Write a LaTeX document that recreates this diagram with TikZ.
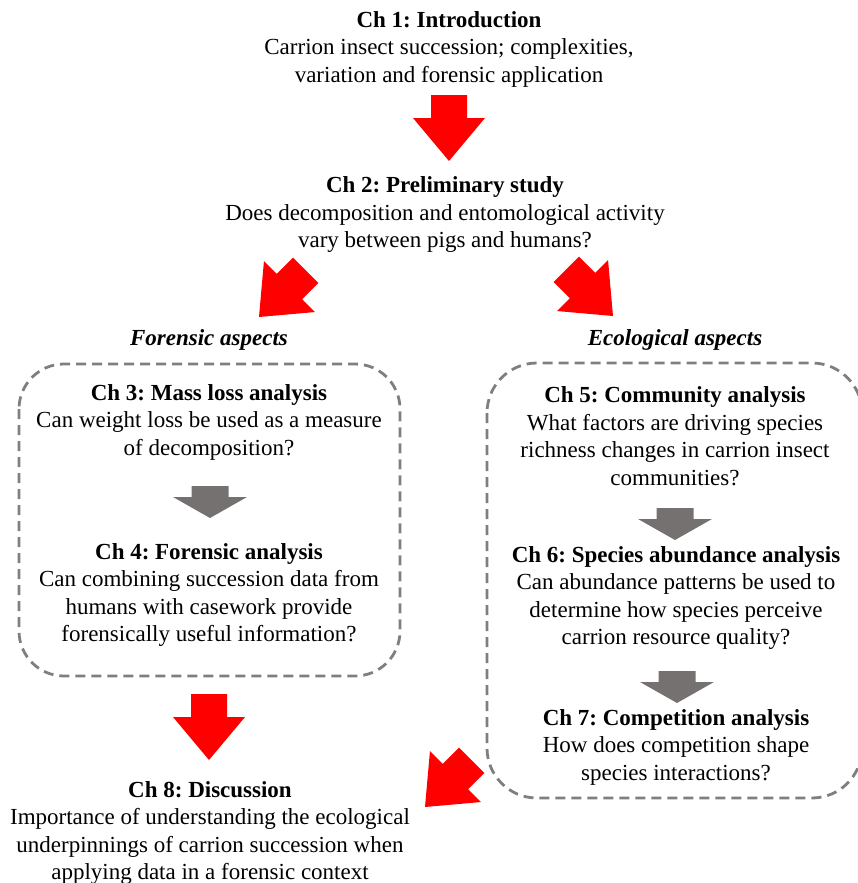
\documentclass[tikz,border=0pt]{standalone}
\usepackage{fontspec}
\setmainfont{Liberation Serif}
\frenchspacing
\newcommand\redblock[2]{\fill[redfill,shift={#1},rotate=#2] (-18,-66) -- (18,-66) -- (18,-43) -- (36,-43) -- (0,0) -- (-36,-43) -- (-18,-43) -- cycle;}
\newcommand\grayblock[1]{\fill[grayfill,shift={#1}] (-18.5,-32) -- (18.5,-32) -- (18.5,-21) -- (37,-21) -- (0,0) -- (-37,-21) -- (-18.5,-21) -- cycle;}
\begin{document}
\begin{tikzpicture}[x=1pt,y=-1pt,
  txt/.style={align=center, font=\fontsize{23}{27.5}\selectfont, inner sep=0pt},
  head/.style={font=\fontsize{23}{27.5}\selectfont\bfseries\itshape, inner sep=0pt},
  dbox/.style={draw=boxgray, line width=2.8pt, dash pattern=on 10pt off 6pt},
  redfill/.style={fill=red},
  grayfill/.style={fill=arrowgray}]
\definecolor{boxgray}{HTML}{7F7F7F}
\definecolor{arrowgray}{HTML}{767171}
\useasboundingbox (0,0) rectangle (857,883);
% dashed groups
\draw[dbox, rounded corners=45pt] (19,364) rectangle (400,676);
\draw[dbox, rounded corners=50pt] (487,363) rectangle (862,798);
% text blocks
\node[txt] (ch1) at (449,49) {\textbf{Ch 1: Introduction}\\Carrion insect succession; complexities,\\variation and forensic application};
\node[txt] (ch2) at (445,215) {\textbf{Ch 2: Preliminary study}\\Does decomposition and entomological activity\\vary between pigs and humans?};
\node[head] (for) at (209,340) {Forensic aspects};
\node[head] (eco) at (675,340) {Ecological aspects};
\node[txt] (ch3) at (209,422) {\textbf{Ch 3: Mass loss analysis}\\Can weight loss be used as a measure\\of decomposition?};
\node[txt] (ch4) at (209,595) {\textbf{Ch 4: Forensic analysis}\\Can combining succession data from\\humans with casework provide\\forensically useful information?};
\node[txt] (ch5) at (675,436) {\textbf{Ch 5: Community analysis}\\What factors are driving species\\richness changes in carrion insect\\communities?};
\node[txt] (ch6) at (676,598) {\textbf{Ch 6: Species abundance analysis}\\Can abundance patterns be used to\\determine how species perceive\\carrion resource quality?};
\node[txt] (ch7) at (676,747) {\textbf{Ch 7: Competition analysis}\\How does competition shape\\species interactions?};
\node[txt] (ch8) at (210,833) {\textbf{Ch 8: Discussion}\\Importance of understanding the ecological\\underpinnings of carrion succession when\\applying data in a forensic context};
% block arrows
\redblock{(449,161)}{0}
\redblock{(259,317)}{-45}
\redblock{(613,316)}{45}
\redblock{(209,760)}{0}
\redblock{(425,807)}{-45}
\grayblock{(210,518)}
\grayblock{(675,540)}
\grayblock{(677,703)}
\end{tikzpicture}
\end{document}
